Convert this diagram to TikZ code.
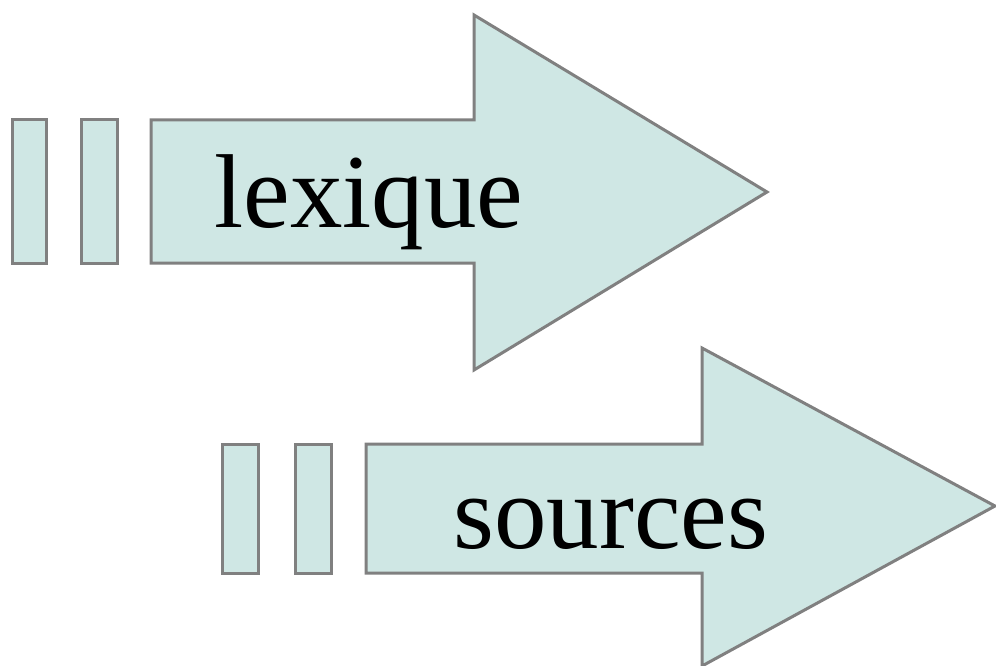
\documentclass[tikz,border=0pt]{standalone}
\usepackage{fontspec}
\setmainfont{Liberation Serif}
\definecolor{arrowfill}{HTML}{CFE7E4}
\definecolor{arrowline}{HTML}{808080}
\tikzset{
  shapeline/.style={fill=arrowfill, draw=arrowline, line width=3pt, line join=miter},
  bigword/.style={anchor=base, inner sep=0pt, font=\fontsize{105}{120}\selectfont, text=black}
}
\begin{document}
\begin{tikzpicture}[x=1pt,y=-1pt]
\useasboundingbox (0,0) rectangle (996,666);
% top arrow
\draw[shapeline] (12,120) rectangle (46,263);
\draw[shapeline] (81,120) rectangle (117,263);
\draw[shapeline] (151,120) -- (474,120) -- (474,15) -- (767,192) -- (474,370) -- (474,263) -- (151,263) -- cycle;
\node[bigword] (lex) at (369,227) {lexique};
% bottom arrow
\draw[shapeline] (222,444) rectangle (258,573);
\draw[shapeline] (295,444) rectangle (331,573);
\draw[shapeline] (366,444) -- (702,444) -- (702,348) -- (995,506) -- (702,666) -- (702,573) -- (366,573) -- cycle;
\node[bigword] (src) at (611,548) {sources};
\end{tikzpicture}
\end{document}
